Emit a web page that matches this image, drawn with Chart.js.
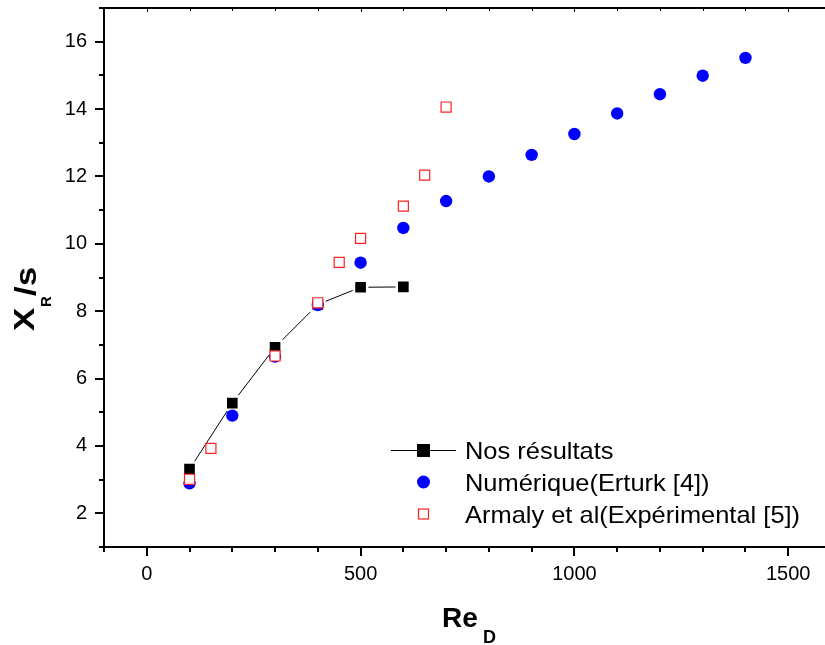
<!DOCTYPE html>
<html><head><meta charset="utf-8">
<script src="https://cdn.jsdelivr.net/npm/chart.js@4/dist/chart.umd.min.js"></script>
<style>html,body{margin:0;background:#fff}canvas{display:block}</style>
</head><body>
<canvas id="c" width="825" height="645"></canvas>
<script>
// Re_D values and X_R/s readings
const reOurs=[100,200,300,400,500,600];
const xrOurs=[3.31,5.27,6.93,8.20,8.71,8.72];
const reErturk=[100,200,300,400,500,600,700,800,900,1000,1100,1200,1300,1400];
const xrErturk=[2.89,4.90,6.65,8.18,9.44,10.47,11.27,12.00,12.64,13.26,13.87,14.44,14.99,15.52];
const reArmaly=[100,150,300,400,450,500,600,650,700];
const xrArmaly=[3.01,3.93,6.67,8.25,9.45,10.16,11.12,12.04,14.06];
const xTicks=[0,500,1000,1500];
const yTicks=[2,4,6,8,10,12,14,16];
const legendNames=["Nos résultats","Numérique(Erturk [4])","Armaly et al(Expérimental [5])"];
const FONT='"Liberation Sans", Arial, sans-serif';

const pts=(xs,ys)=>xs.map((v,i)=>({x:v,y:ys[i]}));
const noPad=s=>{s.paddingLeft=s.paddingRight=s.paddingTop=s.paddingBottom=0};

const axes={id:'axes',afterDraw(ch){
  const {ctx,chartArea:a,scales:{x,y}}=ch;
  ctx.save();
  ctx.strokeStyle='#000';ctx.lineWidth=2;ctx.lineCap='butt';
  ctx.beginPath();ctx.moveTo(a.left,a.top);ctx.lineTo(a.left,a.bottom+1);ctx.moveTo(a.left-1,a.bottom);ctx.lineTo(a.right,a.bottom);ctx.stroke();
  ctx.beginPath();ctx.moveTo(a.left,a.top);ctx.lineTo(a.right,a.top);ctx.stroke();
  // x ticks every 100, major every 500
  for(let v=Math.ceil(x.min/100)*100;v<=x.max;v+=100){
    const px=Math.round(x.getPixelForValue(v));
    const major=v%500===0;
    ctx.beginPath();ctx.moveTo(px,a.bottom);ctx.lineTo(px,a.bottom+(major?9:5));ctx.stroke();
    ctx.save();ctx.lineWidth=1;ctx.beginPath();ctx.moveTo(px+.5,a.top);ctx.lineTo(px+.5,a.top+(major?4:3));ctx.stroke();ctx.restore();
  }
  // y ticks every 1, major every 2
  for(let v=Math.ceil(y.min);v<=y.max;v++){
    const py=Math.round(y.getPixelForValue(v));
    const major=v%2===0;
    ctx.beginPath();ctx.moveTo(a.left,py);ctx.lineTo(a.left-(major?9:5),py);ctx.stroke();
  }
  // legend
  ctx.fillStyle='#000';ctx.lineWidth=1;
  ctx.beginPath();ctx.moveTo(391,450.5);ctx.lineTo(456,450.5);ctx.stroke();
  ctx.fillRect(417,444,13,13);
  ctx.fillStyle='#0000ff';ctx.beginPath();ctx.arc(423.5,482,6.5,0,Math.PI*2);ctx.fill();
  ctx.fillStyle='#fff';ctx.strokeStyle='#ff2020';ctx.lineWidth=1.2;
  ctx.fillRect(418.5,509,10,10);ctx.strokeRect(418.5,509,10,10);
  ctx.fillStyle='#000';ctx.font='24px '+FONT;ctx.textBaseline='alphabetic';
  [458.5,490.5,522.5].forEach((by,i)=>{
    ctx.save();ctx.translate(465,by);ctx.scale(1.06,1);ctx.fillText(legendNames[i],0,0);ctx.restore();
  });
  // x title
  ctx.font='bold 28px '+FONT;ctx.fillText('Re',442,627);
  ctx.font='bold 18px '+FONT;ctx.fillText('D',483,643);
  // y title
  ctx.save();ctx.rotate(-Math.PI/2);
  ctx.font='bold 29px '+FONT;
  ctx.save();ctx.translate(-331,34);ctx.scale(1.2,1);ctx.fillText('X',0,0);ctx.restore();
  ctx.font='bold 15px '+FONT;ctx.fillText('R',-307,51);
  ctx.font='bold 29px '+FONT;
  ctx.save();ctx.translate(-296,36);ctx.scale(1.2,1);ctx.fillText('/s',0,0);ctx.restore();
  ctx.restore();
  ctx.restore();
}};

new Chart(document.getElementById('c'),{
  type:'scatter',
  data:{datasets:[
    {label:legendNames[0],data:pts(reOurs,xrOurs),showLine:true,borderColor:'#000',borderWidth:1,
     pointStyle:'rect',pointRadius:9.3,pointHoverRadius:9.3,pointBackgroundColor:'#000',pointBorderColor:'#fff',pointBorderWidth:2.5,order:3},
    {label:legendNames[1],data:pts(reErturk,xrErturk),pointStyle:'circle',pointRadius:6.2,pointHoverRadius:6.2,
     pointBackgroundColor:'#0000ff',pointBorderColor:'#0000ff',pointBorderWidth:0,order:2},
    {label:legendNames[2],data:pts(reArmaly,xrArmaly),pointStyle:'rect',pointRadius:7.1,pointHoverRadius:7.1,
     pointBackgroundColor:'#fff',pointBorderColor:'#ff2020',pointBorderWidth:1.2,order:1}
  ]},
  options:{
    responsive:false,animation:false,devicePixelRatio:1,
    layout:{autoPadding:false,padding:{top:8,right:0,left:0,bottom:0}},
    plugins:{legend:{display:false},tooltip:{enabled:false}},
    scales:{
      x:{type:'linear',min:-100,max:1586,
        afterBuildTicks:s=>{s.ticks=xTicks.map(v=>({value:v}))},
        afterFit:s=>{s.height=98;noPad(s)},
        grid:{display:false,drawTicks:false},border:{display:false},
        ticks:{padding:15,color:'#000',font:{family:FONT,size:20},callback:v=>String(v)}},
      y:{type:'linear',min:1,max:17,
        afterBuildTicks:s=>{s.ticks=yTicks.map(v=>({value:v}))},
        afterFit:s=>{s.width=104;noPad(s)},
        grid:{display:false,drawTicks:false},border:{display:false},
        ticks:{padding:17,color:'#000',font:{family:FONT,size:20},callback:v=>String(v)}}
    }
  },
  plugins:[axes]
});
</script>
</body></html>
